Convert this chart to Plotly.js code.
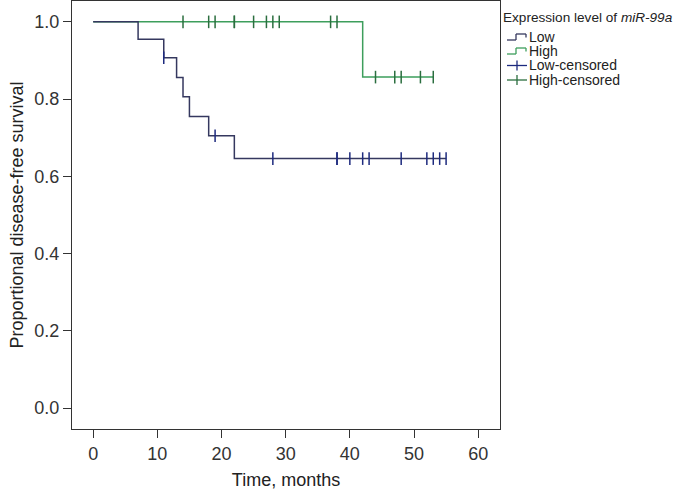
<!DOCTYPE html>
<html>
<head>
<meta charset="utf-8">
<script src="https://cdn.plot.ly/plotly-3.0.1.min.js"></script>
<style>
  html, body { margin: 0; padding: 0; background: #fff; }
  #box { width: 676px; height: 494px; }
</style>
</head>
<body>
<div id="box"></div>
<script>
'use strict'

// Kaplan-Meier steps
var lowTime = [0, 7, 11, 13, 14, 15, 18, 22, 55];
var lowSurv = [1.0, 0.955, 0.907, 0.856, 0.806, 0.755, 0.705, 0.646, 0.646];
var highTime = [0, 42, 53];
var highSurv = [1.0, 0.857, 0.857];

// censored observations
var lowCensTime = [11, 19, 28, 38, 38, 40, 42, 43, 48, 52, 53, 54, 55];
var lowCensSurv = [0.907, 0.705, 0.646, 0.646, 0.646, 0.646, 0.646, 0.646, 0.646, 0.646, 0.646, 0.646, 0.646];
var highCensTime = [14, 18, 19, 22, 22, 25, 27, 28, 29, 37, 38, 44, 47, 48, 51, 53];
var highCensSurv = [1, 1, 1, 1, 1, 1, 1, 1, 1, 1, 1, 0.857, 0.857, 0.857, 0.857, 0.857];

var legendTitle = 'Expression level of <i>miR-99a</i>';
var legendNames = ['Low', 'High', 'Low-censored', 'High-censored'];

var font = 'Liberation Sans, Arial, sans-serif';
var lowLine = '#35385f';
var lowMark = '#1d2a7e';
var highLine = '#3d9e5c';
var highMark = '#2b6e3f';

var highTrace = {
    type: 'scatter', mode: 'lines', name: 'High',
    x: highTime, y: highSurv,
    line: {shape: 'hv', color: highLine, width: 1.5},
    showlegend: false
};
var lowTrace = {
    type: 'scatter', mode: 'lines', name: 'Low',
    x: lowTime, y: lowSurv,
    line: {shape: 'hv', color: lowLine, width: 1.5},
    showlegend: false
};
var highCens = {
    type: 'scatter', mode: 'markers', name: 'High-censored',
    x: highCensTime, y: highCensSurv,
    marker: {symbol: 'line-ns', size: 9, line: {color: highMark, width: 1.5}},
    showlegend: false
};
var lowCens = {
    type: 'scatter', mode: 'markers', name: 'Low-censored',
    x: lowCensTime, y: lowCensSurv,
    marker: {symbol: 'line-ns', size: 9, line: {color: lowMark, width: 1.5}},
    showlegend: false
};

// hand-built legend in paper units (plot area 72..500 x 1..429 px)
var L = 72, T = 1, W = 428, H = 428;
function px(x) { return (x - L) / W; }
function py(y) { return (T + H - y) / H; }

var annotations = [{
    xref: 'paper', yref: 'paper', x: px(502), y: py(17),
    xanchor: 'left', yanchor: 'middle', showarrow: false, borderpad: 0,
    text: legendTitle, font: {family: font, size: 13.6, color: '#222'}
}];
var shapes = [];
var rowY = [37, 51, 65.5, 80];
var glyphColors = [lowLine, highLine, lowMark, highMark];
legendNames.forEach(function(name, i) {
    var y = rowY[i];
    annotations.push({
        xref: 'paper', yref: 'paper', x: px(528), y: py(y),
        xanchor: 'left', yanchor: 'middle', showarrow: false, borderpad: 0,
        text: name, font: {family: font, size: 14, color: '#222'}
    });
    var c = glyphColors[i];
    var ln = {color: c, width: 1.3};
    if (i < 2) {
        shapes.push({type: 'line', xref: 'paper', yref: 'paper', x0: px(507), x1: px(516), y0: py(y + 3), y1: py(y + 3), line: ln});
        shapes.push({type: 'line', xref: 'paper', yref: 'paper', x0: px(516), x1: px(516), y0: py(y + 3), y1: py(y - 3), line: ln});
        shapes.push({type: 'line', xref: 'paper', yref: 'paper', x0: px(516), x1: px(526), y0: py(y - 3), y1: py(y - 3), line: ln});
        shapes.push({type: 'line', xref: 'paper', yref: 'paper', x0: px(526), x1: px(526), y0: py(y - 3), y1: py(y + 0.5), line: ln});
    } else {
        shapes.push({type: 'line', xref: 'paper', yref: 'paper', x0: px(507), x1: px(527), y0: py(y), y1: py(y), line: ln});
        shapes.push({type: 'line', xref: 'paper', yref: 'paper', x0: px(517), x1: px(517), y0: py(y - 5), y1: py(y + 5), line: ln});
    }
});

var layout = {
    width: 676,
    height: 494,
    margin: {l: L, r: 676 - L - W, t: T, b: 494 - T - H, pad: 0},
    paper_bgcolor: '#fff',
    plot_bgcolor: '#fff',
    showlegend: false,
    font: {family: font, size: 18, color: '#333'},
    xaxis: {
        range: [-3.3, 63.4],
        tickvals: [0, 10, 20, 30, 40, 50, 60],
        ticks: 'outside', ticklen: 8, tickcolor: '#333', tickwidth: 1,
        showline: true, mirror: true, linecolor: '#333', linewidth: 1,
        showgrid: false, zeroline: false,
        tickfont: {family: font, size: 18, color: '#333'},
        title: {text: 'Time, months', standoff: 10, font: {family: font, size: 18, color: '#222'}}
    },
    yaxis: {
        range: [-0.054, 1.054],
        tickvals: [0, 0.2, 0.4, 0.6, 0.8, 1.0],
        tickformat: '.1f',
        ticks: 'outside', ticklen: 8, tickcolor: '#333', tickwidth: 1,
        showline: true, mirror: true, linecolor: '#333', linewidth: 1,
        showgrid: false, zeroline: false,
        tickfont: {family: font, size: 18, color: '#333'},
        title: {text: 'Proportional disease-free survival', standoff: 6, font: {family: font, size: 18, color: '#222'}}
    },
    annotations: annotations,
    shapes: shapes
};

Plotly.newPlot('box', [highTrace, lowTrace, highCens, lowCens], layout, {displayModeBar: false, staticPlot: true});
</script>
</body>
</html>
